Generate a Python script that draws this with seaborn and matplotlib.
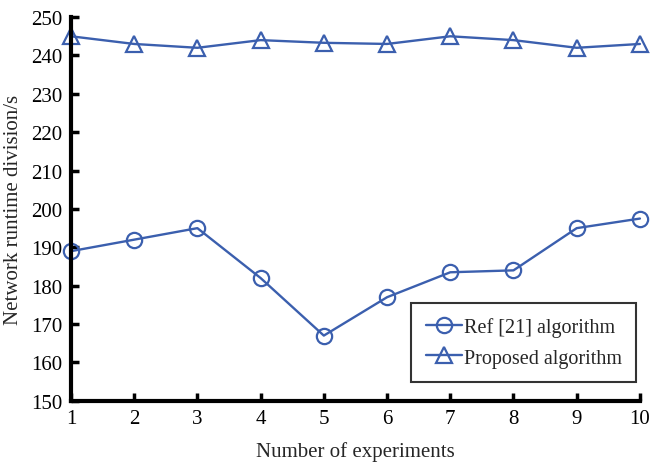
import pandas as pd
import numpy as np
import matplotlib.pyplot as plt
import seaborn as sns

# Datos
experimentos = [1, 2, 3, 4, 5, 6, 7, 8, 9, 10]
ref21 = [189, 192, 195, 182, 167, 177, 183.5, 184, 195, 197.5]
propuesto = [245, 243, 242, 244, 243.3, 243, 245, 244, 242, 243]

datos = pd.DataFrame({
    'exp': experimentos * 2,
    'valor': ref21 + propuesto,
    'serie': ['Ref [21] algorithm'] * 10 + ['Proposed algorithm'] * 10,
})

sns.set_style('ticks')
plt.rcParams['font.family'] = ['Liberation Serif', 'DejaVu Serif']

azul = '#3b5fae'
fig = plt.figure(figsize=(6.57, 4.64), dpi=100)
ax = fig.add_axes([0.108, 0.134, 0.866, 0.827])

sns.lineplot(data=datos, x='exp', y='valor', hue='serie', style='serie',
             palette=[azul, azul], markers=['o', '^'], dashes=False,
             markersize=11, markerfacecolor='none', markeredgecolor=azul,
             markeredgewidth=1.6, linewidth=1.7, ax=ax, clip_on=False)

ax.set_xlim(1, 10)
ax.set_ylim(150, 250)
ax.set_xticks(experimentos)
ax.set_yticks(np.arange(150, 251, 10))
ax.tick_params(direction='in', length=6, width=2.5, labelsize=15, colors='black', pad=6)
for lado in ['top', 'right']:
    ax.spines[lado].set_visible(False)
for lado in ['left', 'bottom']:
    ax.spines[lado].set_linewidth(3)
    ax.spines[lado].set_color('black')

ax.set_xlabel('Number of experiments', fontsize=15, labelpad=9)
ax.set_ylabel('Network runtime division/s', fontsize=15, labelpad=6)

ley = ax.legend(loc='lower right', bbox_to_anchor=(0.993, 0.05), fontsize=14.5,
                frameon=True, fancybox=False, edgecolor='black',
                handlelength=1.8, handletextpad=0.1, borderpad=0.7, labelspacing=0.55,
                borderaxespad=0)
ley.get_frame().set_linewidth(1.5)
ley.set_title(None)
for h in ley.legend_handles:
    h.set_markerfacecolor('none')
    h.set_markeredgecolor(azul)

plt.savefig('out.png', dpi=100)
plt.close()
